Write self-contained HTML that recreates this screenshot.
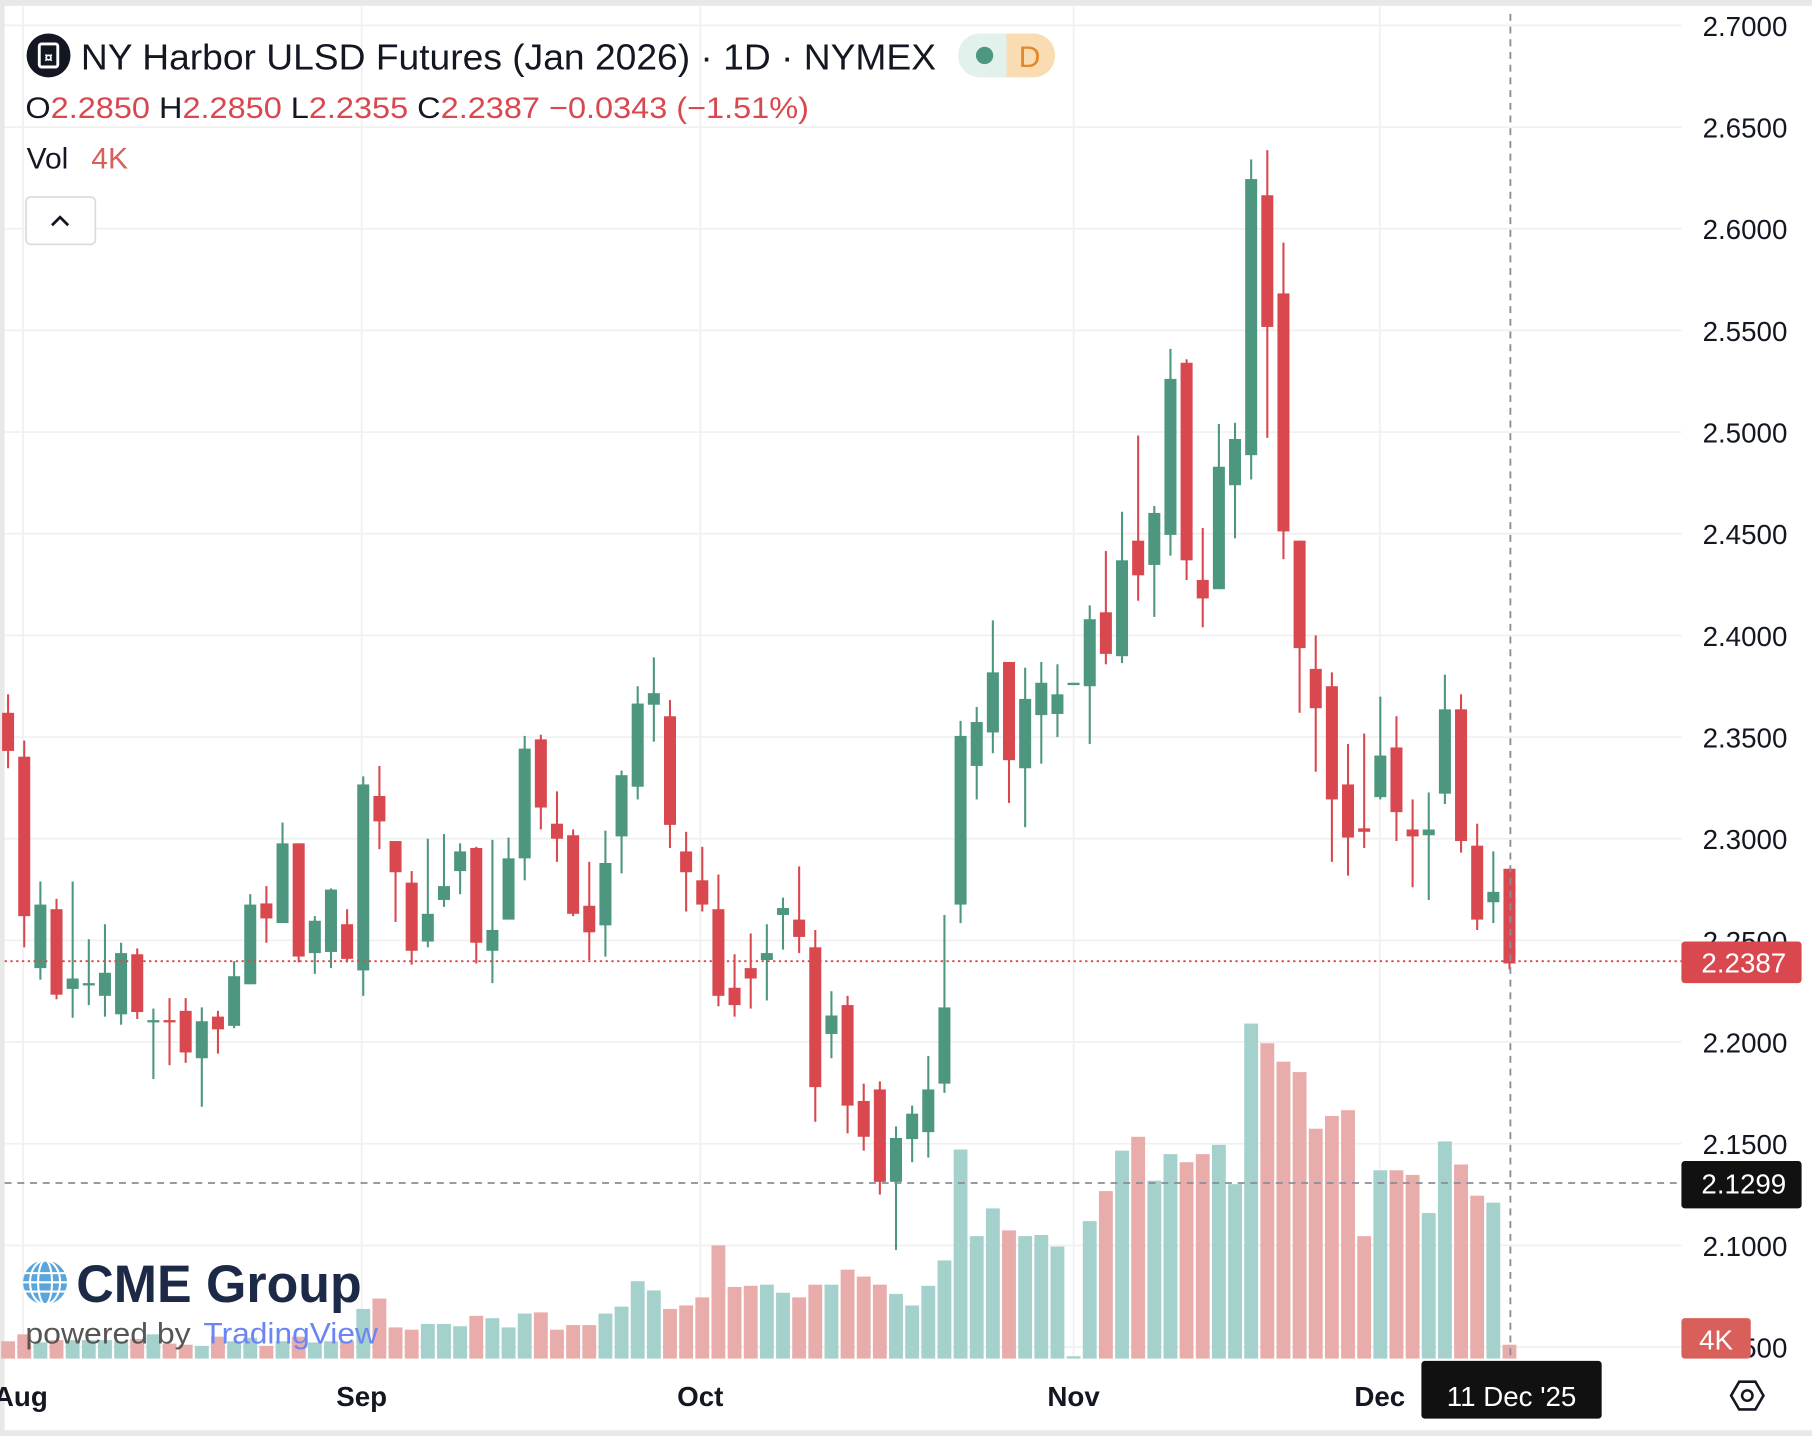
<!DOCTYPE html>
<html><head><meta charset="utf-8"><style>
html,body{margin:0;padding:0;background:#fff;}
svg{display:block;font-family:"Liberation Sans",sans-serif;}
</style></head><body>
<svg id="c" width="1812" height="1436" viewBox="0 0 1568 1243" preserveAspectRatio="none" xmlns="http://www.w3.org/2000/svg">
<rect x="0" y="0" width="1568" height="1243" fill="#fff"/>
<rect x="0" y="0" width="1568" height="5" fill="#e8e8e8"/>
<rect x="0" y="0" width="4" height="1243" fill="#e8e8e8"/>
<rect x="0" y="1238" width="1568" height="5" fill="#e8e8e8"/>
<g id="grid" stroke="#f0f0f0" stroke-width="1.5"></g>
<g id="vol"></g>
<g id="cand"></g>
<line x1="4" y1="832" x2="1455" y2="832" stroke="#d9484f" stroke-width="1.6" stroke-dasharray="2,3"/>
<line x1="4" y1="1024" x2="1455" y2="1024" stroke="#8a8d96" stroke-width="1.6" stroke-dasharray="6,5"/>
<line x1="1307" y1="12" x2="1307" y2="1176" stroke="#8a8d96" stroke-width="1.6" stroke-dasharray="6,5"/>
<g id="axis" font-size="24" fill="#131722" text-anchor="middle"></g>
<rect x="1455" y="815" width="104" height="36" rx="3" fill="#d9484f"/>
<text x="1509" y="842" font-size="24" fill="#fff" text-anchor="middle">2.2387</text>
<rect x="1455" y="1005" width="104" height="41" rx="3" fill="#111"/>
<text x="1509" y="1033" font-size="24" fill="#fff" text-anchor="middle">2.1299</text>
<rect x="1455" y="1141" width="60" height="35" rx="3" fill="#d9605a"/>
<text x="1485" y="1168" font-size="24" fill="#fff" text-anchor="middle">4K</text>
<g font-size="24" font-weight="bold" fill="#131722" text-anchor="middle">
<text x="18" y="1217">Aug</text><text x="313" y="1217">Sep</text><text x="606" y="1217">Oct</text><text x="929" y="1217">Nov</text><text x="1194" y="1217">Dec</text>
</g>
<rect x="1230" y="1178" width="156" height="50" rx="3" fill="#111"/>
<text x="1308" y="1217" font-size="24" fill="#fff" text-anchor="middle">11 Dec '25</text>
<polygon points="1498,1208 1505,1196 1519,1196 1526,1208 1519,1220 1505,1220" fill="none" stroke="#131722" stroke-width="2.2"/>
<circle cx="1512" cy="1208" r="4.5" fill="none" stroke="#131722" stroke-width="2.2"/>
<circle cx="42" cy="48" r="19" fill="#131722"/>
<rect x="34" y="38" width="16" height="20" rx="2" fill="none" stroke="#fff" stroke-width="2.5"/>
<text x="42" y="54" font-size="13" font-weight="bold" fill="#fff" text-anchor="middle">¤</text>
<text x="70" y="60" font-size="31" fill="#131722" textLength="740" lengthAdjust="spacingAndGlyphs">NY Harbor ULSD Futures (Jan 2026) · 1D · NYMEX</text>
<rect x="829" y="29" width="84" height="38" rx="19" fill="#e3f1ec"/>
<path d="M871 29 H894 A19 19 0 0 1 894 67 H871 Z" fill="#f9dcb2"/>
<circle cx="852" cy="48" r="7.5" fill="#4d9780"/>
<text x="891" y="58" font-size="26" fill="#e6862b" text-anchor="middle">D</text>
<text x="22" y="102" font-size="26" textLength="678" lengthAdjust="spacingAndGlyphs"><tspan fill="#131722">O</tspan><tspan fill="#d9484f">2.2850 </tspan><tspan fill="#131722">H</tspan><tspan fill="#d9484f">2.2850 </tspan><tspan fill="#131722">L</tspan><tspan fill="#d9484f">2.2355 </tspan><tspan fill="#131722">C</tspan><tspan fill="#d9484f">2.2387 −0.0343 (−1.51%)</tspan></text>
<text x="23" y="146" font-size="26" fill="#131722">Vol</text>
<text x="79" y="146" font-size="26" fill="#d9605a">4K</text>
<rect x="22.5" y="170.5" width="60" height="41" rx="4" fill="#fff" stroke="#dcdcdc" stroke-width="1.5"/>
<path d="M45 195 L52 188 L59 195" fill="none" stroke="#131722" stroke-width="2.4"/>
<circle cx="39" cy="1110" r="19" fill="#5aa6dc"/>
<g stroke="#fff" stroke-width="1.8" fill="none">
<line x1="20" y1="1102" x2="58" y2="1102"/><line x1="20" y1="1110" x2="58" y2="1110"/><line x1="20" y1="1118" x2="58" y2="1118"/>
<ellipse cx="39" cy="1110" rx="6" ry="19"/><ellipse cx="39" cy="1110" rx="13" ry="19"/>
</g>
<text x="66" y="1127" font-size="46" font-weight="bold" fill="#1c2a48" textLength="247" lengthAdjust="spacingAndGlyphs">CME Group</text>
<text x="22" y="1163" font-size="26" fill="#555" textLength="143" lengthAdjust="spacingAndGlyphs">powered by</text>
<text x="176" y="1163" font-size="26" fill="#6b86f3" textLength="151" lengthAdjust="spacingAndGlyphs">TradingView</text>
</svg>
<script>
(function(){
var NS="http://www.w3.org/2000/svg";
function el(p,t,a){var e=document.createElementNS(NS,t);for(var k in a)e.setAttribute(k,a[k]);p.appendChild(e);return e;}
var g=document.getElementById('grid');
for(var i=0;i<14;i++){var y=22+88*i;el(g,'line',{x1:4,y1:y,x2:1455,y2:y});}
[20,313,606,929,1194].forEach(function(x){el(g,'line',{x1:x,y1:5,x2:x,y2:1176});});
var ax=document.getElementById('axis');
var labs=["2.7000","2.6500","2.6000","2.5500","2.5000","2.4500","2.4000","2.3500","2.3000","2.2500","2.2000","2.1500","2.1000","2.0500"];
for(var i=0;i<labs.length;i++){var t=el(ax,'text',{x:1510,y:22+88*i+9});t.textContent=labs[i];}
var C=[[617,650,601,665],[655,793,641,820],[838,783,763,848],[787,861,778,865],[856,847,763,881],[853,851,813,870],[862,842,800,880],[878,825,816,887],[826,876,821,882],[885,883,873,934],[883,885,864,922],[875,911,864,920],[916,884,872,958],[880,891,875,912],[888,845,832,890],[852,783,774,852],[782,795,767,816],[799,730,712,799],[730,828,730,833],[825,797,793,843],[824,770,769,838],[800,830,787,833],[840,679,672,862],[689,711,663,735],[728,755,728,798],[764,823,754,835],[815,791,726,820],[779,767,722,785],[754,737,730,774],[734,816,733,834],[823,805,727,851],[796,743,725,796],[743,648,637,762],[640,699,636,718],[713,726,685,746],[723,791,718,793],[784,807,746,831],[801,747,719,828],[724,671,667,756],[681,609,594,692],[610,600,569,642],[620,714,606,734],[737,755,720,789],[762,783,733,789],[787,862,757,871],[855,870,826,880],[838,847,808,873],[831,825,800,866],[792,786,777,822],[796,811,750,825],[820,941,805,971],[895,879,858,916],[870,957,862,981],[953,984,938,996],[943,1023,936,1034],[1023,985,975,1082],[986,964,957,1006],[980,943,914,1002],[938,872,792,946],[783,637,624,799],[663,625,612,692],[634,582,537,652],[573,658,573,695],[665,605,578,716],[619,591,573,661],[618,601,575,638],[593,591,591,593],[594,536,524,644],[530,566,477,575],[568,485,443,574],[468,498,377,520],[489,444,438,534],[463,328,302,481],[314,485,311,502],[502,518,457,543],[510,404,367,510],[420,380,366,466],[394,155,138,415],[169,283,130,379],[254,460,210,484],[468,561,468,617],[579,613,550,668],[594,692,582,746],[679,725,644,758],[717,720,635,734],[690,654,603,692],[647,703,620,728],[718,724,692,768],[723,718,686,779],[687,614,584,696],[614,728,601,738],[732,796,713,805],[781,772,737,799],[752,834,752,839]];
var V=[1161,1155,1162,1160,1160,1160,1160,1161,1159,1155,1163,1164,1165,1157,1161,1158,1165,1161,1157,1162,1161,1161,1133,1124,1149,1151,1146,1146,1148,1139,1141,1149,1137,1136,1151,1147,1147,1137,1131,1109,1117,1133,1130,1123,1078,1114,1113,1112,1119,1123,1112,1112,1099,1105,1112,1120,1130,1113,1091,995,1070,1046,1065,1070,1069,1079,1174,1057,1031,996,984,1022,999,1006,999,991,1025,886,903,919,928,977,966,961,1070,1013,1013,1017,1050,988,1008,1035,1041,1164];
var vg=document.getElementById('vol'),cg=document.getElementById('cand');
for(var i=0;i<C.length;i++){
 var x=7+13.97*i,c=C[i],up=c[1]<=c[0];
 var col=up?'#4d9780':'#d9484f';
 var vc=up?'#a5d1cc':'#e8adaa';
 var vt=V[i];el(vg,'rect',{x:x-6,y:vt,width:12,height:1176-vt,fill:vc});
 el(cg,'rect',{x:x-0.9,y:c[2],width:1.8,height:Math.max(1,c[3]-c[2]),fill:col});
 var by=Math.min(c[0],c[1]),bh=Math.max(2,Math.abs(c[1]-c[0]));
 el(cg,'rect',{x:x-5.2,y:by,width:10.4,height:bh,fill:col});
}
})();
</script>
</body></html>
